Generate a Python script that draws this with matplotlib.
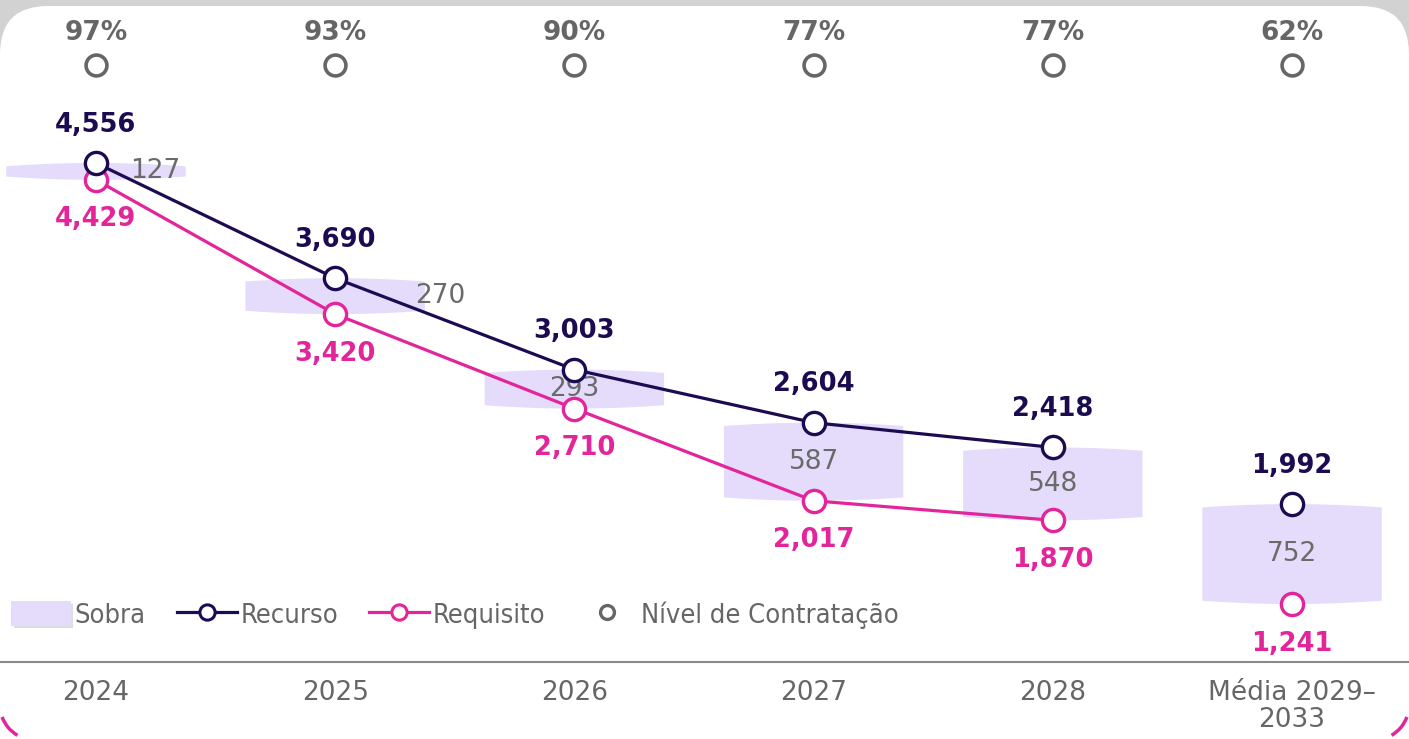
import numpy as np
import matplotlib.pyplot as plt
from matplotlib.patches import FancyBboxPatch, Arc, Patch
from matplotlib.lines import Line2D
import matplotlib.patheffects as pe
import matplotlib.transforms as mtransforms

plt.rcParams['font.family'] = ['DejaVu Sans']

# dados
categorias = ['2024', '2025', '2026', '2027', '2028', 'Média 2029–\n2033']
recurso = [4556, 3690, 3003, 2604, 2418, 1992]
requisito = [4429, 3420, 2710, 2017, 1870, 1241]
sobra = [127, 270, 293, 587, 548, 752]
nivel_contratacao = [97, 93, 90, 77, 77, 62]

# cores
cor_recurso = '#1d0b52'
cor_requisito = '#e3259b'
cor_sobra = '#e4dcfa'
cinza = '#666666'

W, H = 1409, 739
fig = plt.figure(figsize=(W / 100, H / 100), dpi=100)
fig.patch.set_facecolor('#d2d2d2')

# cartao branco com cantos arredondados
card = FancyBboxPatch((0, -60), W, H - 6 + 60, boxstyle='round,pad=0,rounding_size=48',
                      transform=None, facecolor='white', edgecolor='none', zorder=-2)
fig.patches.append(card)
for cx, a1, a2 in [(35, 200, 240), (W - 35, 300, 340)]:
    fig.patches.append(Arc((cx, 34), 70, 70, theta1=a1, theta2=a2, transform=None,
                           color=cor_requisito, lw=2.5, zorder=-1))

ax = fig.add_axes([0, 77 / H, 1, 662 / H])
ax.set_zorder(2)
ax.patch.set_alpha(0)

x = np.arange(len(categorias))

# barras "Sobra" (formato de barril)
larg = 0.75
curva = 25
t = np.linspace(-1, 1, 60)
for i in x:
    xs = i + t * larg / 2
    topo = recurso[i] - curva * t ** 2
    base = requisito[i] + curva * t ** 2
    ax.fill(np.concatenate([xs, xs[::-1]]), np.concatenate([topo, base[::-1]]),
            color=cor_sobra, lw=0, zorder=1)

desloc_rotulo = [0.25, 0.44, 0, 0, 0, 0]
for i in x:
    ax.text(i + desloc_rotulo[i], (recurso[i] + requisito[i]) / 2, f'{sobra[i]}',
            ha='center', va='center', fontsize=19, color='#6a6a6a', zorder=2)

# linhas
mk = dict(marker='o', markersize=16, markerfacecolor='white', markeredgewidth=2.4)
ax.plot(x[:5], recurso[:5], color=cor_recurso, lw=2.3, markeredgecolor=cor_recurso, zorder=4, **mk)
ax.plot(x[:5], requisito[:5], color=cor_requisito, lw=2.3, markeredgecolor=cor_requisito, zorder=3, **mk)
ax.plot(x[5], recurso[5], color=cor_recurso, lw=0, markeredgecolor=cor_recurso, zorder=4, **mk)
ax.plot(x[5], requisito[5], color=cor_requisito, lw=0, markeredgecolor=cor_requisito, zorder=3, **mk)

for i in x:
    ax.annotate(f'{recurso[i]:,}', (i, recurso[i]), xytext=(0, 27.5), textcoords='offset points',
                ha='center', va='center', fontsize=18.5, fontweight='bold', color=cor_recurso)
    ax.annotate(f'{requisito[i]:,}', (i, requisito[i]), xytext=(0, -28.5), textcoords='offset points',
                ha='center', va='center', fontsize=18.5, fontweight='bold', color=cor_requisito)

# nivel de contratacao (linha superior)
trans = mtransforms.blended_transform_factory(ax.transData, ax.transAxes)
ax.plot(x, [0.902] * len(x), transform=trans, lw=0, marker='o', markersize=15,
        markerfacecolor='white', markeredgecolor=cinza, markeredgewidth=2.6, clip_on=False)
for i in x:
    ax.text(i, 0.95, f'{nivel_contratacao[i]}%', transform=trans, ha='center', va='center',
            fontsize=19, fontweight='bold', color=cinza)

ax.set_xlim(-0.401, 5.489)
ax.set_ylim(805, 5781)
ax.set_xticks(x)
ax.set_xticklabels(categorias, fontsize=19, color=cinza, va='top', linespacing=1.05)
ax.tick_params(axis='x', length=0, pad=13)
ax.set_yticks([])
for s in ['top', 'left', 'right']:
    ax.spines[s].set_visible(False)
ax.spines['bottom'].set_color('#8a8a8a')
ax.spines['bottom'].set_linewidth(1.5)

# legenda
handles = [
    Patch(facecolor=cor_sobra, edgecolor='none',
          path_effects=[pe.SimplePatchShadow(offset=(2, -2), alpha=0.18), pe.Normal()]),
    Line2D([], [], color=cor_recurso, lw=2.3, marker='o', markersize=11,
           markerfacecolor='white', markeredgewidth=2.2),
    Line2D([], [], color=cor_requisito, lw=2.3, marker='o', markersize=11,
           markerfacecolor='white', markeredgewidth=2.2),
    Line2D([], [], lw=0, marker='o', markersize=10, markerfacecolor='white',
           markeredgecolor=cinza, markeredgewidth=2.4),
]
leg = ax.legend(handles, ['Sobra', 'Recurso', 'Requisito', 'Nível de Contratação'],
                loc='center left', bbox_to_anchor=(11 / W, 0.071), ncol=4, frameon=False,
                prop=dict(family='DejaVu Sans', stretch='condensed', size=19.5),
                handlelength=2.2, handleheight=1.0, handletextpad=0.15,
                columnspacing=1.15, borderaxespad=0, borderpad=0)
for txt in leg.get_texts():
    txt.set_color(cinza)

fig.savefig('out.png', dpi=100, facecolor=fig.get_facecolor())
